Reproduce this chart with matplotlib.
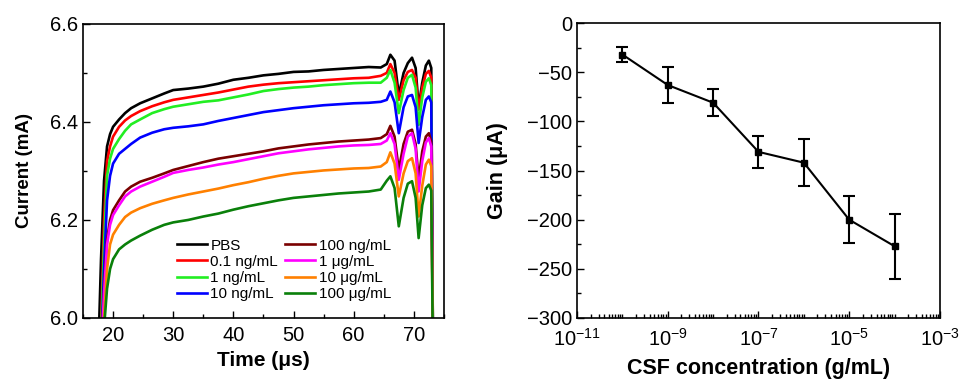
import numpy as np
import matplotlib
matplotlib.use("Agg")
import matplotlib.pyplot as plt
from matplotlib.ticker import MultipleLocator, LogLocator, NullFormatter, FixedLocator

plt.rcParams['font.family'] = ['Liberation Sans', 'DejaVu Sans']
plt.rcParams['mathtext.fontset'] = 'custom'
plt.rcParams['mathtext.rm'] = 'Liberation Sans'

# ---------------- data: left panel ----------------
time_us = [17.6, 18.0, 18.5, 19.0, 19.5, 20.0, 21.0, 22.0, 23.0, 24.5, 26.5, 28.5,
           30, 32.5, 35, 37.5, 40, 42.5, 45, 47.5, 50, 52.5, 55, 57.5, 60, 62.5,
           64.5, 65.5, 66.1, 66.8, 67.5, 68.3, 69.0, 69.7, 70.3, 70.8, 71.4, 72.0,
           72.5, 72.9, 73.2]

pbs = [5.95, 6.12, 6.28, 6.35, 6.375, 6.39, 6.405, 6.418, 6.428, 6.438, 6.448, 6.458,
       6.465, 6.468, 6.472, 6.478, 6.486, 6.49, 6.495, 6.498, 6.502, 6.503, 6.506, 6.508,
       6.51, 6.512, 6.511, 6.518, 6.537, 6.525, 6.455, 6.5, 6.52, 6.531, 6.51, 6.43,
       6.48, 6.515, 6.525, 6.51, 5.9]
c_0p1ng = [5.9, 5.98, 6.2, 6.32, 6.35, 6.37, 6.39, 6.403, 6.412, 6.422, 6.432, 6.44,
           6.445, 6.45, 6.455, 6.46, 6.466, 6.472, 6.476, 6.479, 6.481, 6.483, 6.485, 6.487,
           6.489, 6.49, 6.494, 6.5, 6.518, 6.5, 6.445, 6.485, 6.502, 6.506, 6.49, 6.425,
           6.47, 6.498, 6.504, 6.49, 5.9]
c_1ng = [5.9, 5.96, 6.15, 6.29, 6.325, 6.345, 6.365, 6.382, 6.395, 6.405, 6.418, 6.426,
         6.431, 6.436, 6.441, 6.444, 6.45, 6.456, 6.463, 6.467, 6.47, 6.472, 6.475, 6.477,
         6.479, 6.48, 6.48, 6.49, 6.506, 6.48, 6.418, 6.465, 6.49, 6.496, 6.47, 6.394,
         6.45, 6.482, 6.489, 6.475, 5.9]
c_10ng = [5.9, 5.93, 6.1, 6.24, 6.29, 6.315, 6.335, 6.345, 6.355, 6.368, 6.378, 6.385,
          6.388, 6.391, 6.395, 6.402, 6.408, 6.414, 6.42, 6.424, 6.428, 6.431, 6.434, 6.436,
          6.438, 6.439, 6.441, 6.445, 6.462, 6.44, 6.377, 6.43, 6.452, 6.455, 6.43, 6.357,
          6.41, 6.445, 6.452, 6.44, 5.9]
c_100ng = [5.9, 5.93, 6.06, 6.16, 6.2, 6.22, 6.24, 6.258, 6.268, 6.278, 6.286, 6.295,
           6.302, 6.31, 6.318, 6.325, 6.33, 6.335, 6.34, 6.346, 6.35, 6.354, 6.357, 6.36,
           6.362, 6.364, 6.367, 6.375, 6.392, 6.37, 6.302, 6.355, 6.38, 6.384, 6.355, 6.282,
           6.34, 6.37, 6.377, 6.36, 5.9]
c_1ug = [5.9, 5.92, 6.05, 6.15, 6.19, 6.21, 6.23, 6.248, 6.258, 6.268, 6.278, 6.288,
         6.296, 6.302, 6.307, 6.313, 6.318, 6.324, 6.33, 6.336, 6.34, 6.344, 6.347, 6.35,
         6.352, 6.353, 6.355, 6.362, 6.377, 6.355, 6.282, 6.335, 6.37, 6.377, 6.345, 6.258,
         6.32, 6.358, 6.367, 6.35, 5.9]
c_10ug = [5.9, 5.91, 6.0, 6.1, 6.15, 6.17, 6.19, 6.206, 6.215, 6.224, 6.233, 6.24,
          6.245, 6.252, 6.258, 6.264, 6.271, 6.277, 6.284, 6.29, 6.295, 6.298, 6.301, 6.303,
          6.305, 6.306, 6.309, 6.318, 6.338, 6.315, 6.248, 6.295, 6.32, 6.326, 6.295, 6.207,
          6.27, 6.313, 6.323, 6.31, 5.9]
c_100ug = [5.9, 5.9, 5.98, 6.06, 6.1, 6.12, 6.14, 6.15, 6.158, 6.168, 6.18, 6.19,
           6.195, 6.2, 6.207, 6.213, 6.221, 6.228, 6.234, 6.24, 6.245, 6.248, 6.251, 6.254,
           6.256, 6.258, 6.262, 6.28, 6.289, 6.265, 6.187, 6.245, 6.274, 6.279, 6.245, 6.163,
           6.23, 6.265, 6.272, 6.26, 5.9]

series_labels = ['PBS', '0.1 ng/mL', '1 ng/mL', '10 ng/mL',
                 '100 ng/mL', '1 μg/mL', '10 μg/mL', '100 μg/mL']
series_values = [pbs, c_0p1ng, c_1ng, c_10ng, c_100ng, c_1ug, c_10ug, c_100ug]
series_colors = ['#000000', '#ff0000', '#22ee22', '#0000ff',
                 '#7a0000', '#ff00ff', '#ff8000', '#0a800a']

# ---------------- data: right panel ----------------
conc_g_ml = [1e-10, 1e-9, 1e-8, 1e-7, 1e-6, 1e-5, 1e-4]
gain_ua = [-32, -63, -81, -131, -142, -200, -227]
gain_err = [8, 18, 14, 16, 24, 24, 33]

# ---------------- figure ----------------
fig = plt.figure(figsize=(9.65, 3.79), dpi=100)
ax1 = fig.add_axes([0.086, 0.161, 0.374, 0.776])
ax2 = fig.add_axes([0.598, 0.161, 0.376, 0.778])

for vals, lab, col in zip(series_values, series_labels, series_colors):
    ax1.plot(time_us, vals, color=col, lw=1.9, label=lab)

ax1.set_xlim(15, 75)
ax1.set_ylim(6.0, 6.6)
ax1.xaxis.set_major_locator(FixedLocator([20, 30, 40, 50, 60, 70]))
ax1.xaxis.set_minor_locator(MultipleLocator(5))
ax1.yaxis.set_major_locator(FixedLocator([6.0, 6.2, 6.4, 6.6]))
ax1.yaxis.set_minor_locator(MultipleLocator(0.1))
ax1.set_yticklabels(['6.0', '6.2', '6.4', '6.6'])
ax1.set_xlabel('Time (μs)', fontsize=15, fontweight='bold', labelpad=4)
ax1.set_ylabel('Current (mA)', fontsize=13.5, fontweight='bold', labelpad=12)

leg = ax1.legend(ncol=2, loc='upper left', bbox_to_anchor=(0.26, 0.27),
                 frameon=False, fontsize=11, handlelength=1.95, handletextpad=0.25,
                 columnspacing=0.45, labelspacing=0.14, borderpad=0, borderaxespad=0)

ax2.errorbar(conc_g_ml, gain_ua, yerr=gain_err, color='black', lw=1.5,
             marker='s', ms=5, capsize=4, capthick=1.5, elinewidth=1.5)
ax2.set_xscale('log')
ax2.set_xlim(1e-11, 1e-3)
ax2.set_ylim(-300, 0)
ax2.xaxis.set_major_locator(FixedLocator([1e-11, 1e-9, 1e-7, 1e-5, 1e-3]))
ax2.xaxis.set_minor_locator(LogLocator(base=10, subs=np.arange(1, 10), numticks=100))
ax2.xaxis.set_minor_formatter(NullFormatter())
ax2.yaxis.set_major_locator(MultipleLocator(50))
ax2.yaxis.set_minor_locator(MultipleLocator(25))
ax2.set_xlabel('CSF concentration (g/mL)', fontsize=15.5, fontweight='bold', labelpad=6)
ax2.set_ylabel('Gain (μA)', fontsize=15.5, fontweight='bold', labelpad=14)

for ax in (ax1, ax2):
    for sp in ax.spines.values():
        sp.set_linewidth(1.2)
    ax.tick_params(which='both', direction='in', top=False, right=False,
                   labelsize=14.5, width=1.0)
    ax.tick_params(which='major', length=5)
    ax.tick_params(which='minor', length=3)
ax1.tick_params(axis='x', which='major', pad=6)
ax2.tick_params(axis='x', which='major', pad=7)

fig.savefig('out.png', dpi=100)
